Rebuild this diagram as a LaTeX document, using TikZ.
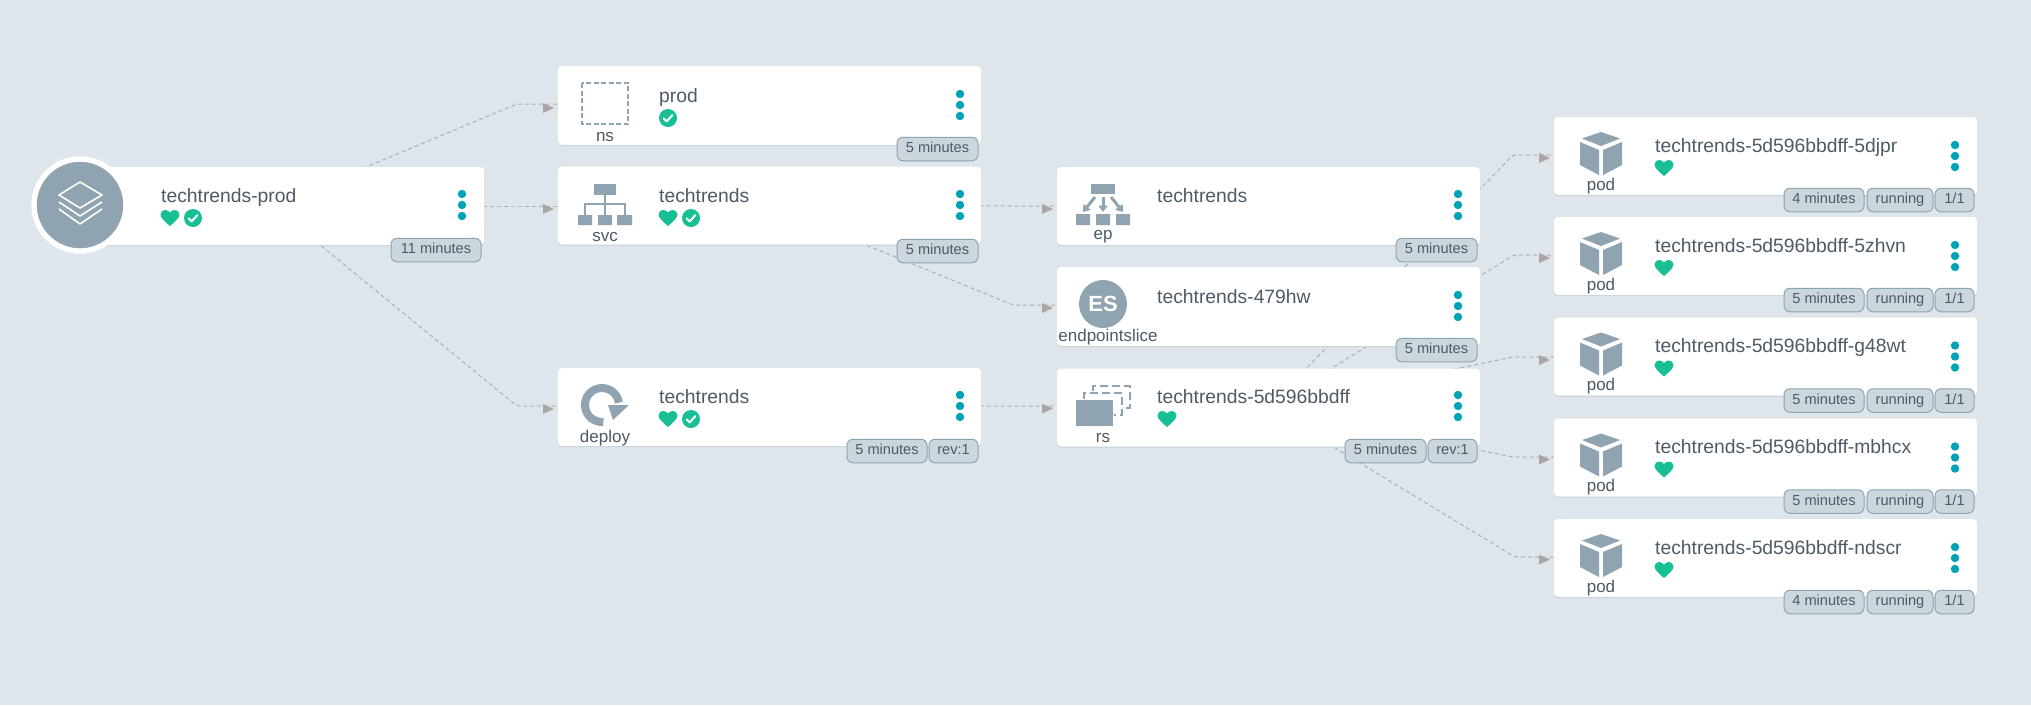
\documentclass[tikz,border=0pt]{standalone}
\usepackage{fontspec}
\setmainfont{Liberation Sans}
\usetikzlibrary{arrows.meta,calc}
\definecolor{bgc}{HTML}{DEE6EB}
\definecolor{iconc}{HTML}{8FA3B1}
\definecolor{okc}{HTML}{18BE94}
\definecolor{dotc}{HTML}{00A2B8}
\definecolor{txtc}{HTML}{4D5B66}
\definecolor{pillc}{HTML}{CCD6DD}
\definecolor{pillb}{HTML}{8FA4B1}
\definecolor{edgec}{HTML}{A6B0B7}
\definecolor{headc}{HTML}{ABA6A3}
\definecolor{shadc}{HTML}{C6D0D8}
\pgfdeclarelayer{bg}
\pgfsetlayers{bg,main}
\tikzset{
  cardbox/.style={rectangle,rounded corners=4pt,fill=white,minimum width=423pt,minimum height=78pt,inner sep=0pt,outer sep=0pt,
    preaction={fill=shadc,transform canvas={yshift=-1.2pt}}},
  nametxt/.style={anchor=base west,inner sep=0pt,text=txtc,font=\fontsize{19.3}{22}\selectfont},
  kindtxt/.style={anchor=center,inner sep=0pt,text=txtc,font=\fontsize{17}{20}\selectfont},
  pillbox/.style={rectangle,rounded corners=6pt,fill=pillc,draw=pillb,line width=1pt,inner sep=0pt,minimum height=23.5pt,text height=10.5pt,text depth=3pt,text=txtc,font=\fontsize{14.6}{16}\selectfont},
  linkline/.style={draw=edgec,line width=1pt,dash pattern=on 4pt off 3pt,rounded corners=3pt},
  headtip/.style={draw=headc,line width=0pt,-{Triangle[length=11pt,width=10pt,fill=headc]}},
  ic/.style={fill=iconc,draw=none},
  icl/.style={draw=iconc,line width=2pt},
  iconarrow/.style={draw=iconc,line width=3pt,-{Triangle[length=6.5pt,width=9pt,fill=iconc]}}
}
\newcommand{\pillat}[5]{\node[pillbox,minimum width={#3-#2}] (#1) at ({(#2+#3)/2},{#4+12}) {#5};}
\newcommand{\kebab}[2]{\foreach \dd in {-11,0,11}{\fill[dotc] (#1,{#2+\dd}) circle (4.2pt);}}
\newcommand{\hearticon}[2]{\fill[okc,shift={(#1,#2)}] (0,8) .. controls (-5,3.5) and (-9.5,0) .. (-9.5,-3.5) .. controls (-9.5,-6.5) and (-7,-8) .. (-5,-8) .. controls (-3,-8) and (-1,-7) .. (0,-5.5) .. controls (1,-7) and (3,-8) .. (5,-8) .. controls (7,-8) and (9.5,-6.5) .. (9.5,-3.5) .. controls (9.5,0) and (5,3.5) .. (0,8) -- cycle;}
\newcommand{\checkicon}[2]{\fill[okc] (#1,#2) circle (9pt);\draw[white,line width=2pt,line cap=round,line join=round,shift={(#1,#2)}] (-4.5,0.3) -- (-1.3,3.3) -- (4.5,-3);}
\newcommand{\linkto}[5]{%
  \coordinate (w#1#2) at (#3,#4);
  \begin{pgfonlayer}{bg}
  \draw[linkline] (#1.center) -- (w#1#2) -- (w#1#2 -| #2.west);
  \draw[headtip] ($(w#1#2 -| #2.west)+(-15,#5)$) -- ($(w#1#2 -| #2.west)+(-4,#5)$);
  \end{pgfonlayer}}
\newcommand{\podcard}[4]{% id, center y, minutes, suffix
  \node[cardbox] (pod#1) at (1765.5,#2) {};
  \node[nametxt] (podname#1) at (1655,{#2-4}) {techtrends-5d596bbdff-#4};
  \hearticon{1664}{#2+12}
  \kebab{1955}{#2}
  \begin{scope}[shift={(1601,#2)}]
    \fill[ic] (0,-24) -- (19,-17.5) -- (0,-10) -- (-19,-17.5) -- cycle;
    \fill[ic] (-21,-14) -- (-2,-6) -- (-2,19) -- (-21,9) -- cycle;
    \fill[ic] (21,-14) -- (2,-6) -- (2,19) -- (21,9) -- cycle;
  \end{scope}
  \node[kindtxt] (podkind#1) at (1601,{#2+30}) {pod};
  \pillat{podage#1}{1784}{1864}{#2+32}{#3}
  \pillat{podstate#1}{1867}{1933}{#2+32}{running}
  \pillat{podready#1}{1935}{1974}{#2+32}{1/1}
}
\begin{document}
\begin{tikzpicture}[x=1pt,y=-1pt]
\useasboundingbox (0,0) rectangle (2031,705);
\begin{pgfonlayer}{bg}
\fill[bgc] (0,0) rectangle (2031,705);
\end{pgfonlayer}

% root
\node[cardbox] (root) at (272.5,206) {};
\node[circle,fill=iconc,draw=white,line width=5.4pt,minimum size=92pt,inner sep=0pt,outer sep=0pt] (rooticon) at (80,205) {};
\draw[white,line width=1.6pt,line join=round] (59,195) -- (80,182) -- (102,195) -- (80,208) -- cycle;
\draw[white,line width=1.6pt,line join=round] (59,202) -- (80,216) -- (102,202);
\draw[white,line width=1.6pt,line join=round] (59,209) -- (80,224) -- (102,209);
\node[nametxt] (rootname) at (161,202) {techtrends-prod};
\hearticon{170}{218}
\checkicon{193}{218}
\kebab{462}{205}
\pillat{rootage}{391}{481}{238}{11 minutes}

% ns
\node[cardbox,minimum height=79pt] (ns) at (769.5,105.5) {};
\draw[draw=iconc,line width=2pt,dash pattern=on 5pt off 2.5pt] (582,83) rectangle (628,124);
\node[kindtxt] (nskind) at (605,137) {ns};
\node[nametxt] (nsname) at (659,102) {prod};
\checkicon{668}{118}
\kebab{960}{105}
\pillat{nsage}{897}{978}{137}{5 minutes}

% svc
\node[cardbox] (svc) at (769.5,205.5) {};
\fill[ic] (594,184) rectangle (616,195);
\draw[icl] (605,195) -- (605,215) (585,215) -- (585,204) -- (625,204) -- (625,215);
\fill[ic] (578,215) rectangle (592,225) (598,215) rectangle (612,225) (617,215) rectangle (632,225);
\node[kindtxt] (svckind) at (605,237) {svc};
\node[nametxt] (svcname) at (659,202) {techtrends};
\hearticon{668}{218}
\checkicon{691}{218}
\kebab{960}{205}
\pillat{svcage}{897}{978}{239}{5 minutes}

% deploy
\node[cardbox] (deploy) at (769.5,407) {};
\begin{scope}[shift={(602,405)},x=1pt,y=1pt]
\draw[iconc,line width=8pt] (-85:17) arc (-85:-352:17);
\end{scope}
\fill[ic] (608,405) -- (629,405) -- (613,420) -- cycle;
\node[kindtxt] (deploykind) at (605,438) {deploy};
\node[nametxt] (deployname) at (659,403) {techtrends};
\hearticon{668}{419}
\checkicon{691}{419}
\kebab{960}{406}
\pillat{deployage}{847}{927}{439}{5 minutes}
\pillat{deployrev}{929}{978}{439}{rev:1}

% ep
\node[cardbox] (ep) at (1268.5,206) {};
\fill[ic] (1091,184) rectangle (1115,194);
\fill[ic] (1076,214) rectangle (1090,225) (1096,214) rectangle (1110,225) (1116,214) rectangle (1130,225);
\draw[iconarrow] (1095,197) -- (1083,212);
\draw[iconarrow] (1103,197) -- (1103,212);
\draw[iconarrow] (1111,197) -- (1123,212);
\node[kindtxt] (epkind) at (1103,237) {ep};
\node[nametxt] (epname) at (1157,202) {techtrends};
\kebab{1458}{205}
\pillat{epage}{1396}{1477}{238}{5 minutes}

% es
\node[cardbox,minimum height=79pt] (es) at (1268.5,306.5) {};
\node[circle,fill=iconc,minimum size=48pt,inner sep=0pt,outer sep=0pt,text=white,font=\fontsize{22}{24}\selectfont\bfseries] (esicon) at (1103,304) {ES};
\node[kindtxt] (eskind) at (1108,337) {endpointslice};
\node[nametxt] (esname) at (1157,303) {techtrends-479hw};
\kebab{1458}{306}
\pillat{esage}{1396}{1477}{338}{5 minutes}

% rs
\node[cardbox] (rs) at (1268.5,407.5) {};
\draw[draw=iconc,line width=2pt,dash pattern=on 8pt off 4pt] (1093,391) -- (1093,386) -- (1130,386) -- (1130,408) -- (1122,408);
\draw[draw=iconc,line width=2pt,dash pattern=on 8pt off 4pt] (1084,399) -- (1084,393) -- (1122,393) -- (1122,415) -- (1114,415);
\fill[ic] (1076,400) rectangle (1113,426);
\node[kindtxt] (rskind) at (1103,438) {rs};
\node[nametxt] (rsname) at (1157,403) {techtrends-5d596bbdff};
\hearticon{1167}{419}
\kebab{1458}{406}
\pillat{rsage}{1345}{1426}{439}{5 minutes}
\pillat{rsrev}{1428}{1477}{439}{rev:1}

% pods
\podcard{1}{156}{4 minutes}{5djpr}
\podcard{2}{256}{5 minutes}{5zhvn}
\podcard{3}{356.5}{5 minutes}{g48wt}
\podcard{4}{457.5}{5 minutes}{mbhcx}
\podcard{5}{558}{4 minutes}{ndscr}

% connectors
\linkto{root}{ns}{517}{104}{4}
\linkto{root}{svc}{517}{206}{3}
\linkto{root}{deploy}{517}{406}{3}
\linkto{svc}{ep}{1013}{206}{3}
\linkto{svc}{es}{1013}{305}{3}
\linkto{deploy}{rs}{1013}{406}{2.5}
\linkto{rs}{pod1}{1513}{155}{3}
\linkto{rs}{pod2}{1514}{255}{3}
\linkto{rs}{pod3}{1513}{357}{3}
\linkto{rs}{pod4}{1513}{457}{2.5}
\linkto{rs}{pod5}{1515}{557}{2.5}
\end{tikzpicture}
\end{document}
